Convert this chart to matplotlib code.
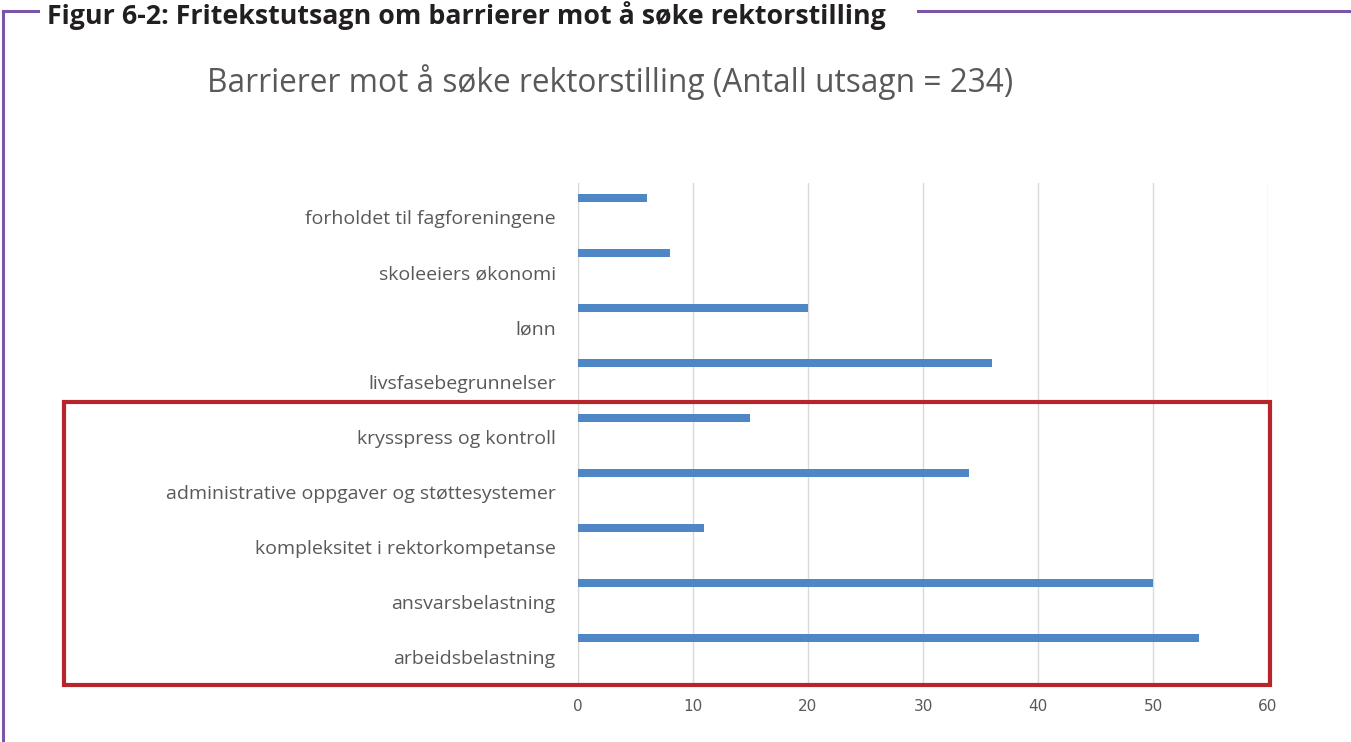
import matplotlib.pyplot as plt
import matplotlib.patches as patches
from matplotlib.lines import Line2D
import numpy as np

# data (top to bottom as shown)
categories = ['forholdet til fagforeningene', 'skoleeiers økonomi', 'lønn',
              'livsfasebegrunnelser', 'krysspress og kontroll',
              'administrative oppgaver og støttesystemer',
              'kompleksitet i rektorkompetanse', 'ansvarsbelastning',
              'arbeidsbelastning']
counts = [6, 8, 20, 36, 15, 34, 11, 50, 54]
x_ticks = [0, 10, 20, 30, 40, 50, 60]

heading = 'Figur 6-2: Fritekstutsagn om barrierer mot å søke rektorstilling'
title = 'Barrierer mot å søke rektorstilling (Antall utsagn = 234)'

purple = '#7b55a6'
grey_txt = '#595959'

fig = plt.figure(figsize=(13.51, 7.42), dpi=100)
ax = fig.add_axes([0.4278, 0.0768, 0.5108, 0.6766])

y = np.arange(len(categories))
ax.barh(y - 0.35, counts, height=0.14, color='#4f86c6', zorder=3)

ax.set_xlim(0, 60)
ax.set_ylim(8.5, -0.62)
ax.set_xticks(x_ticks)
ax.set_yticks(y)
ax.set_yticklabels(categories, fontsize=14, color=grey_txt, family='Open Sans')
ax.tick_params(axis='x', labelsize=11, colors=grey_txt, length=0, pad=10)
ax.tick_params(axis='y', length=0, pad=16)
ax.xaxis.grid(True, color='#d9d9d9', linewidth=1, zorder=0)
for s in ['top', 'right', 'bottom']:
    ax.spines[s].set_visible(False)
ax.spines['left'].set_color('#d9d9d9')

# red highlight box around the last five categories
box = patches.Rectangle((64 / 1351, 1 - 685 / 742), (1270 - 64) / 1351, (685 - 402) / 742,
                        transform=fig.transFigure, fill=False, edgecolor='#b5252b',
                        linewidth=3, zorder=5)
fig.add_artist(box)

# chart title
fig.text(0.153, 1 - 82 / 742, title, fontsize=22.8, color=grey_txt,
         family='Open Sans', va='center', ha='left')

# figure heading and purple frame
fig.text(47 / 1351, 1 - 24 / 742, heading, fontsize=19.3, fontweight='bold',
         color='#231f20', family='Open Sans', va='baseline', ha='left')
fig.add_artist(Line2D([3 / 1351, 38 / 1351], [1 - 11 / 742] * 2,
                      transform=fig.transFigure, color=purple, linewidth=2.2))
fig.add_artist(Line2D([918 / 1351, 1.0], [1 - 11 / 742] * 2,
                      transform=fig.transFigure, color=purple, linewidth=2.2))
fig.add_artist(Line2D([3 / 1351, 3 / 1351], [1 - 11 / 742, 0],
                      transform=fig.transFigure, color=purple, linewidth=2.2))

fig.savefig('out.png', dpi=100)
